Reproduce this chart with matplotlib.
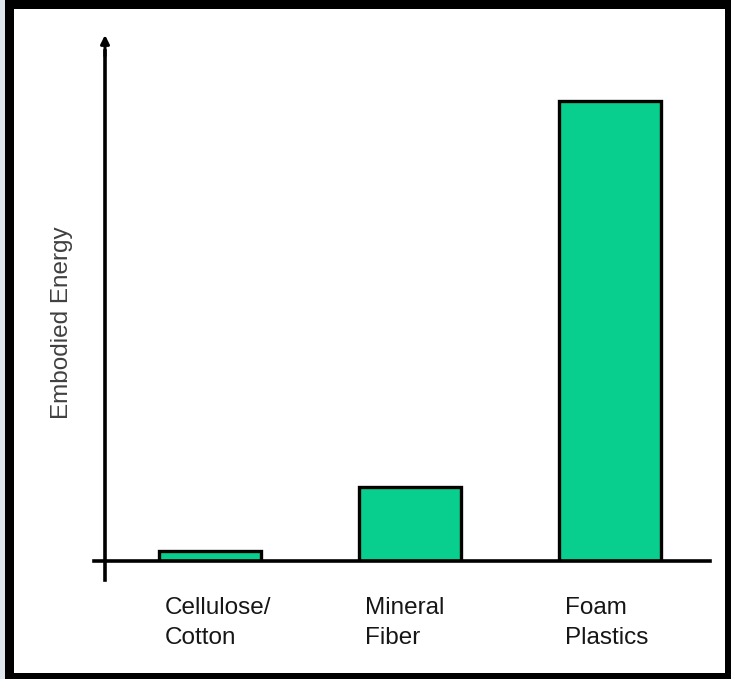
import matplotlib
matplotlib.use("Agg")
import matplotlib.pyplot as plt
from matplotlib.patches import Rectangle

# Insulation materials and their relative embodied energy
categories = ["Cellulose/\nCotton", "Mineral\nFiber", "Foam\nPlastics"]
energy = [2.2, 16.1, 100.0]
y_label = "Embodied Energy"

W, H = 731, 679
fig = plt.figure(figsize=(W / 100, H / 100), dpi=100, facecolor="black")

def fx(px):
    return px / W

def fy(py):
    return 1 - py / H

# light strip on the far left, then the white panel inside the black frame
fig.patches.append(Rectangle((0, 0), fx(5), 1, transform=fig.transFigure,
                             facecolor="#dfe6ec", edgecolor="none", zorder=-10))
fig.patches.append(Rectangle((fx(14), fy(673)), fx(725 - 14), fy(9) - fy(673),
                             transform=fig.transFigure, facecolor="white",
                             edgecolor="none", zorder=-10))

ax = fig.add_axes([fx(105), fy(561), fx(710 - 105), fy(35) - fy(561)])
ax.set_zorder(2)
ax.set_facecolor("none")
x = list(range(len(categories)))
ax.bar(x, energy, width=0.51, color="#08cf8e", edgecolor="black", linewidth=2.4,
       zorder=2)
ax.set_xlim(-0.525, 2.5)
ax.set_ylim(0, 114.3)
for s in ax.spines.values():
    s.set_visible(False)
ax.set_xticks([])
ax.set_yticks([])

# axis lines, slightly overshooting the origin, with an arrow on the value axis
ax.plot([-11 / 605, 1.0], [0, 0], transform=ax.transAxes, color="black",
        lw=2.6, clip_on=False, zorder=3)
ax.plot([0, 0], [-19 / 526, 0.97], transform=ax.transAxes, color="black",
        lw=2.6, clip_on=False, zorder=3)
ax.annotate("", xy=(0, 1.0), xytext=(0, 0.96), xycoords="axes fraction",
            arrowprops=dict(arrowstyle="-|>,head_length=0.5,head_width=0.25",
                            color="black", lw=2.2, shrinkA=0, shrinkB=0))

# category labels, left aligned just inside each bar
for xi, lab in zip(x, categories):
    ax.text(xi - 0.225, -36 / 526 * 114.3, lab, ha="left", va="top",
            fontsize=17.5, family="Liberation Sans", color="#161616",
            linespacing=1.45, clip_on=False)

fig.text(fx(62), fy(323), y_label, rotation=90, ha="center", va="center",
         fontsize=17.5, family="Liberation Sans", color="#404040", zorder=3)

fig.savefig("out.png", dpi=100, facecolor=fig.get_facecolor())
